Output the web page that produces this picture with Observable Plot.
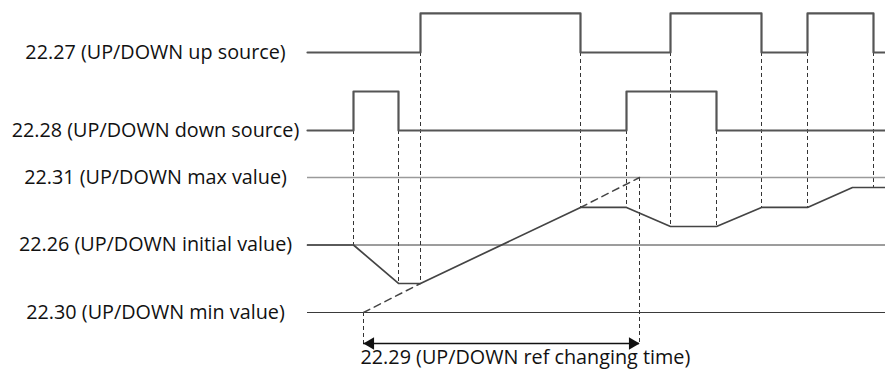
<!DOCTYPE html>
<html>
<head>
<meta charset="utf-8">
<script src="https://cdn.jsdelivr.net/npm/d3@7"></script>
<script src="https://cdn.jsdelivr.net/npm/@observablehq/plot@0.6"></script>
<style>
  html, body { margin: 0; padding: 0; background: #fff; }
  #chart svg { display: block; }
</style>
</head>
<body>
<div id="chart"></div>
<script>
// ---- Data (time in arbitrary units, reference in % of min..max) ----
const endTime = 578;
const upTimes   = [0, 113, 273, 363, 454, 500, 566];
const upStates  = [0, 1, 0, 1, 0, 1, 0];
const downTimes  = [0, 46, 91, 319, 409];
const downStates = [0, 1, 0, 1, 0];
const refTimes  = [0, 46, 91, 113, 273, 319, 363, 409, 454, 500, 545, 578];
const refValues = [50, 50, 21.5, 21.5, 77.8, 77.8, 63.7, 63.7, 77.8, 77.8, 92.6, 92.6];
const minValue = 0, initialValue = 50, maxValue = 100;
const rampStart = 56, rampEnd = 332;       // ref changing time span
const labels = [
  "22.27 (UP/DOWN up source)",
  "22.28 (UP/DOWN down source)",
  "22.31 (UP/DOWN max value)",
  "22.26 (UP/DOWN initial value)",
  "22.30 (UP/DOWN min value)"
];
const rampLabel = "22.29 (UP/DOWN ref changing time)";

// ---- Layout levels (y units share the reference scale) ----
const upBase = 192.6, downBase = 134.8, amp = 28.9, arrowLevel = -23;

const upData = upTimes.map((t, i) => ({t, y: upBase + amp * upStates[i]}))
  .concat([{t: endTime, y: upBase + amp * upStates[upStates.length - 1]}]);
const downData = downTimes.map((t, i) => ({t, y: downBase + amp * downStates[i]}))
  .concat([{t: endTime, y: downBase + amp * downStates[downStates.length - 1]}]);
const refData = refTimes.map((t, i) => ({t, y: refValues[i]}));

// dashed extension of ramp to min and max
const extData = [
  [{t: rampStart, y: minValue}, {t: refTimes[3], y: refValues[3]}],
  [{t: refTimes[4], y: refValues[4]}, {t: rampEnd, y: maxValue}]
];

// dashed vertical guides
const refAt = t => { const i = refTimes.indexOf(t); return refValues[i]; };
const guides = [
  {t: 46,  y1: downBase, y2: refAt(46)},
  {t: 91,  y1: downBase, y2: refAt(91)},
  {t: 113, y1: upBase,   y2: refAt(113)},
  {t: 273, y1: upBase,   y2: refAt(273)},
  {t: 319, y1: downBase, y2: refAt(319)},
  {t: 363, y1: upBase,   y2: refAt(363)},
  {t: 409, y1: downBase, y2: refAt(409)},
  {t: 454, y1: upBase,   y2: refAt(454)},
  {t: 500, y1: upBase,   y2: refAt(500)},
  {t: 566, y1: upBase,   y2: refValues[refValues.length - 1]},
  {t: rampStart, y1: minValue, y2: arrowLevel},
  {t: rampEnd,   y1: maxValue, y2: arrowLevel}
];

const tickLevels = [upBase, downBase, maxValue, initialValue, minValue];
const labelOf = new Map(tickLevels.map((v, i) => [v, labels[i]]));

const font = "'Open Sans', sans-serif";

const chart = Plot.plot({
  width: 885,
  height: 369,
  marginLeft: 307,
  marginRight: 0,
  marginTop: 0,
  marginBottom: 0,
  style: {background: "#fff", fontFamily: font},
  x: {domain: [0, endTime], axis: null},
  y: {domain: [-42.22, 231.11], axis: null},
  marks: [
    Plot.axisY({
      ticks: tickLevels,
      tickFormat: d => labelOf.get(d),
      tickSize: 0,
      textAnchor: "middle",
      dx: -143,
      fontSize: 19.8,
      fill: "#111",
      label: null
    }),
    // dashed guides
    Plot.ruleX(guides, {x: "t", y1: "y1", y2: "y2", stroke: "#333", strokeWidth: 1, strokeDasharray: "4,3"}),
    // reference level lines
    Plot.ruleY([maxValue], {stroke: "#9a9a9a", strokeWidth: 1.6}),
    Plot.ruleY([initialValue, minValue], {stroke: "#3a3a3a", strokeWidth: 1}),
    // signals
    Plot.line(upData, {x: "t", y: "y", curve: "step-after", stroke: "#555", strokeWidth: 2.2}),
    Plot.line(downData, {x: "t", y: "y", curve: "step-after", stroke: "#555", strokeWidth: 2.2}),
    // reference value
    Plot.line(refData, {x: "t", y: "y", stroke: "#444", strokeWidth: 1.7}),
    ...extData.map(seg => Plot.line(seg, {x: "t", y: "y", stroke: "#444", strokeWidth: 1.5, strokeDasharray: "7,5"})),
    // ref changing time arrow
    Plot.ruleY([arrowLevel], {x1: rampStart, x2: rampEnd, stroke: "#111", strokeWidth: 1.6}),
    Plot.dot([{t: rampStart, dir: -90}, {t: rampEnd, dir: 90}], {
      x: "t", y: () => arrowLevel, symbol: "triangle", r: 4.6, fill: "#111", stroke: "none",
      rotate: "dir"
    }),
    Plot.text([rampLabel], {x: () => rampStart, y: () => arrowLevel, text: d => d,
      textAnchor: "start", dx: -3, dy: 14, fontSize: 19.8, fill: "#111"})
  ]
});

// shift arrowheads so their tips meet the arrow ends
d3.select(chart).selectAll("g[aria-label='dot'] path").each(function(d, i) {
  const el = d3.select(this);
  const tr = el.attr("transform") || "";
  const off = i === 0 ? 7 : -7;
  el.attr("transform", `translate(${off},0) ` + tr);
});

document.getElementById("chart").appendChild(chart);
</script>
</body>
</html>
